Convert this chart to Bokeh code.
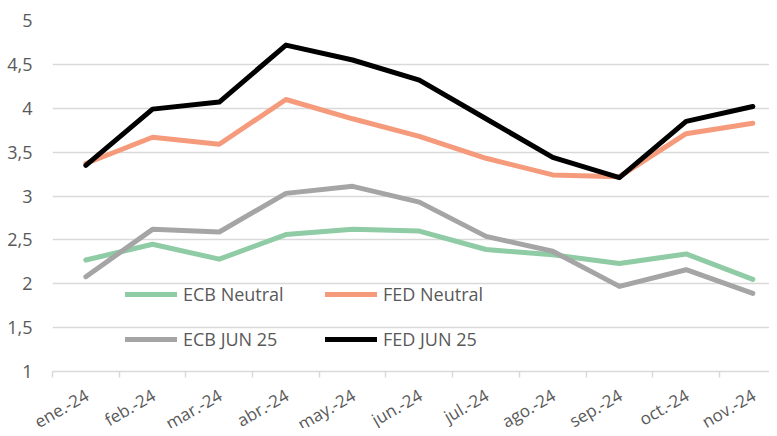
import math
from bokeh.plotting import figure
from bokeh.layouts import column
from bokeh.models import (Range1d, FixedTicker, CustomJSTickFormatter, Legend, LegendItem)
from bokeh.embed import file_html
from bokeh.resources import INLINE

months = ["ene.-24", "feb.-24", "mar.-24", "abr.-24", "may.-24", "jun.-24",
          "jul.-24", "ago.-24", "sep.-24", "oct.-24", "nov.-24"]
ecb_neutral = [2.27, 2.45, 2.28, 2.56, 2.62, 2.60, 2.39, 2.33, 2.23, 2.34, 2.05]
fed_neutral = [3.37, 3.67, 3.59, 4.10, 3.88, 3.68, 3.43, 3.24, 3.22, 3.71, 3.83]
ecb_jun25 = [2.08, 2.62, 2.59, 3.03, 3.11, 2.93, 2.54, 2.37, 1.97, 2.16, 1.89]
fed_jun25 = [3.35, 3.99, 4.07, 4.72, 4.55, 4.32, 3.88, 3.44, 3.21, 3.85, 4.02]
y_ticks = [1, 1.5, 2, 2.5, 3, 3.5, 4, 4.5, 5]

FONT = "Open Sans"
TXT = "#595959"
GRID = "#d9d9d9"

# layout constants (pixels)
W = 769
LEFT = 52
TOP = 20
FRAME_H = 351
AXIS_H = 13
LABELS_H = 44
LABEL_DROP = 9
X0, X1 = -0.5, 10.25

x = list(range(len(months)))

p = figure(width=W, height=TOP + FRAME_H + AXIS_H, output_backend="svg", toolbar_location=None,
           x_range=Range1d(X0, X1), y_range=Range1d(1, 5),
           min_border_left=LEFT, min_border_right=0, min_border_top=TOP,
           min_border_bottom=AXIS_H)
p.frame_align = False
p.outline_line_color = None
p.background_fill_color = "white"
p.border_fill_color = "white"

series = [
    ("ECB Neutral", ecb_neutral, "#8fcba4"),
    ("FED Neutral", fed_neutral, "#f59b7c"),
    ("ECB JUN 25", ecb_jun25, "#a5a5a5"),
    ("FED JUN 25", fed_jun25, "#000000"),
]
rends = {}
for name, ys, col in series:
    rends[name] = p.line(x, ys, line_color=col, line_width=5,
                         line_join="round", line_cap="round")

# grid
p.xgrid.grid_line_color = None
p.ygrid.grid_line_color = GRID
p.ygrid.grid_line_width = 1.5

# y axis
p.yaxis.ticker = FixedTicker(ticks=y_ticks)
p.yaxis.formatter = CustomJSTickFormatter(code="return tick.toString().replace('.', ',');")
p.yaxis.axis_line_color = None
p.yaxis.major_tick_line_color = None
p.yaxis.minor_tick_line_color = None
p.yaxis.major_tick_out = 0
p.yaxis.minor_tick_out = 0
p.yaxis.major_label_standoff = 20
p.yaxis.major_label_text_font = FONT
p.yaxis.major_label_text_font_size = "18px"
p.yaxis.major_label_text_color = TXT

# x axis: line + category boundary ticks (month labels drawn in the strip below)
p.xaxis.ticker = FixedTicker(ticks=x, minor_ticks=[i - 0.5 for i in range(len(months) + 1)])
p.xaxis.major_label_text_font_size = "0px"
p.xaxis.major_label_standoff = 0
p.xaxis.axis_line_color = GRID
p.xaxis.axis_line_width = 1.5
p.xaxis.major_tick_line_color = None
p.xaxis.minor_tick_line_color = GRID
p.xaxis.minor_tick_line_width = 1.5
p.xaxis.minor_tick_out = 6
p.xaxis.minor_tick_in = 0
p.xaxis.major_tick_out = 0

# legends: two rows, two columns
def make_legend(names, yloc):
    lg = Legend(items=[LegendItem(label=n, renderers=[rends[n]]) for n in names],
                orientation="horizontal", location=(73, yloc),
                padding=0, margin=0, spacing=0,
                glyph_width=52, glyph_height=24, label_height=24,
                label_standoff=6, label_width=142,
                label_text_font=FONT, label_text_font_size="18px",
                label_text_color=TXT,
                background_fill_alpha=0, border_line_color=None)
    p.add_layout(lg, "center")

make_legend(["ECB Neutral", "FED Neutral"], 65)
make_legend(["ECB JUN 25", "FED JUN 25"], 20)

# strip with the rotated month labels, using the same x scale as the chart
k = (W - LEFT) / (X1 - X0)
p2 = figure(width=W, height=LABELS_H, output_backend="svg", toolbar_location=None,
            x_range=Range1d(X0 - LEFT / k, X1), y_range=Range1d(0, LABELS_H),
            min_border_left=0, min_border_right=0, min_border_top=0, min_border_bottom=0,
            x_axis_location=None, y_axis_location=None)
p2.frame_align = False
p2.outline_line_color = None
p2.grid.visible = False
p2.text(x=x, y=[LABELS_H - LABEL_DROP] * len(months), text=months, angle=math.pi / 6,
        x_offset=1, text_align="right", text_baseline="middle",
        text_font={"value": FONT}, text_font_size={"value": "17px"}, text_color=TXT)

layout = column(p, p2, spacing=0)
open("out.html", "w").write(file_html(layout, INLINE))
